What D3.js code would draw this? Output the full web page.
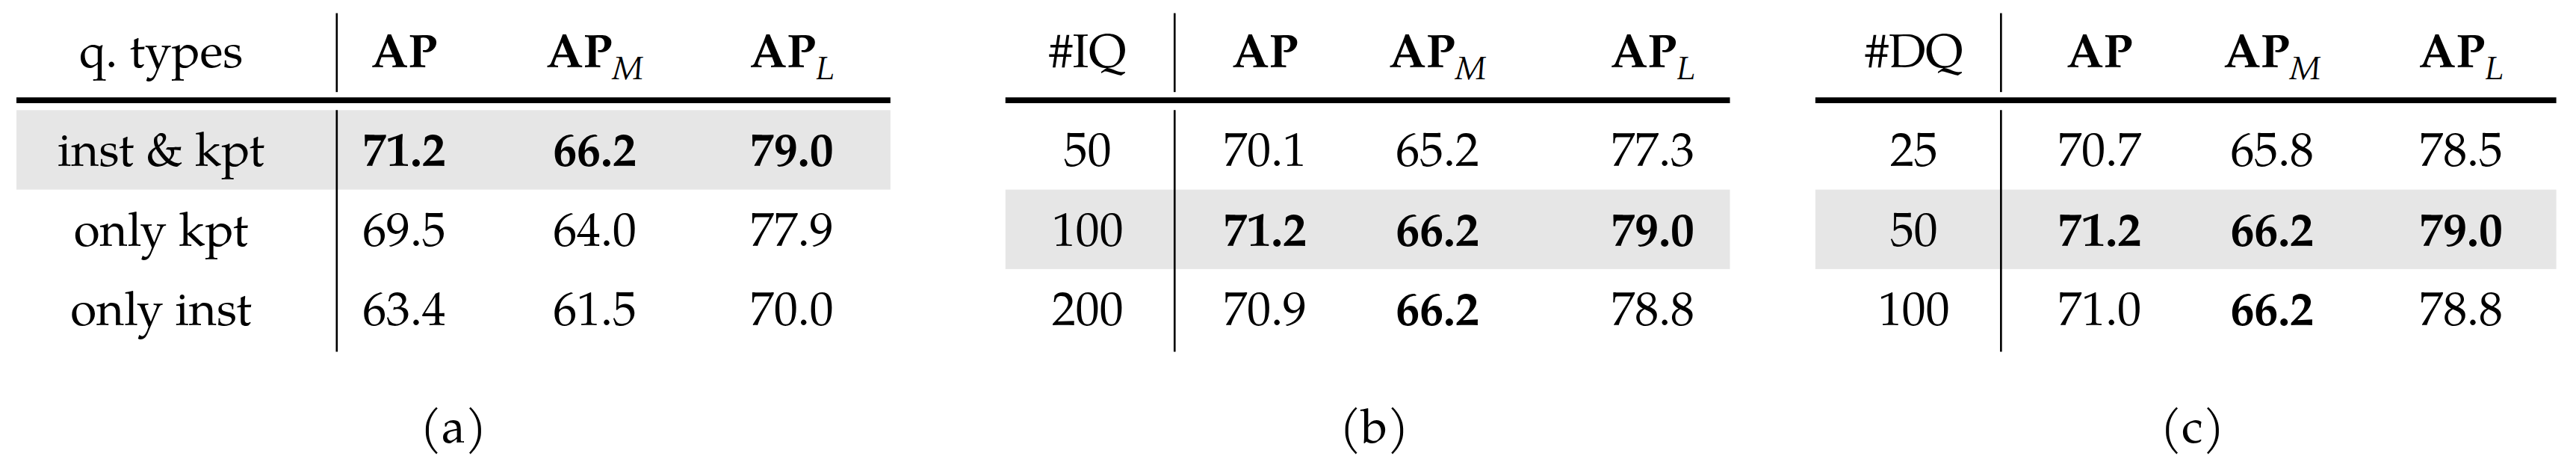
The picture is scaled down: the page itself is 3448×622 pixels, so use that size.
<!DOCTYPE html>
<html><head><meta charset="utf-8">
<script src="https://cdn.jsdelivr.net/npm/d3@7"></script>
<style>body{margin:0;background:#fff}</style>
</head><body><div id="chart"></div>
<script>
// table contents
var colHeads = ["AP", "AP", "AP"]
var colSubs = ["", "M", "L"]
var panelLabels = ["(a)", "(b)", "(c)"]
var rowHeads = ["q. types", "#IQ", "#DQ"]
var rowNames = [["inst & kpt", "only kpt", "only inst"], ["50", "100", "200"], ["25", "50", "100"]]
var values = [
    [[71.2, 66.2, 79.0], [69.5, 64.0, 77.9], [63.4, 61.5, 70.0]],
    [[70.1, 65.2, 77.3], [71.2, 66.2, 79.0], [70.9, 66.2, 78.8]],
    [[70.7, 65.8, 78.5], [71.2, 66.2, 79.0], [71.0, 66.2, 78.8]]
]
var bold = [
    [[1, 1, 1], [0, 0, 0], [0, 0, 0]],
    [[0, 0, 0], [1, 1, 1], [0, 1, 0]],
    [[0, 0, 0], [1, 1, 1], [0, 1, 0]]
]
var shaded = [0, 1, 1]

var s = 3448 / 1568
var svg = d3.select("#chart").append("svg").attr("width", 3448).attr("height", 622)
var root = svg.append("g").attr("transform", "scale(" + s + ")")
var font = "'TeX Gyre Pagella','Palatino Linotype','Liberation Serif','DejaVu Serif',serif"
var fs = "29px"

// panel geometry in display units
var panels = [
    {x0: 10, x1: 542, vline: 205, cols: [98, 246, 362, 482]},
    {x0: 612, x1: 1053, vline: 715, cols: [662, 770, 875, 1006]},
    {x0: 1105, x1: 1556, vline: 1218, cols: [1165, 1278, 1383, 1498]}
]
var y = d3.scaleBand().domain([0, 1, 2]).range([67, 212])

panels.forEach(function(p, i) {
    var g = root.append("g")
    g.append("rect").attr("x", p.x0).attr("width", p.x1 - p.x0)
        .attr("y", y(shaded[i])).attr("height", y.bandwidth()).attr("fill", "#e6e6e6")
    g.append("line").attr("x1", p.x0).attr("x2", p.x1).attr("y1", 61).attr("y2", 61)
        .attr("stroke", "#000").attr("stroke-width", 3.5)
    g.append("line").attr("x1", p.vline).attr("x2", p.vline).attr("y1", 8).attr("y2", 56)
        .attr("stroke", "#000").attr("stroke-width", 1.2)
    g.append("line").attr("x1", p.vline).attr("x2", p.vline).attr("y1", 67).attr("y2", 214)
        .attr("stroke", "#000").attr("stroke-width", 1.2)
    g.append("text").attr("x", p.cols[0]).attr("y", 41).attr("text-anchor", "middle")
        .style("font-family", font).style("font-size", fs).text(rowHeads[i])
    colHeads.forEach(function(h, j) {
        var t = g.append("text").attr("x", p.cols[j + 1]).attr("y", 41).attr("text-anchor", "middle")
            .style("font-family", font).style("font-size", fs).style("font-weight", "bold")
        t.append("tspan").text(h)
        if (colSubs[j]) t.append("tspan").attr("dy", 7).style("font-size", "20px")
            .style("font-weight", "normal").style("font-style", "italic").text(colSubs[j])
    })
    rowNames[i].forEach(function(r, k) {
        var cy = y(k) + y.bandwidth() / 2 + 10
        g.append("text").attr("x", p.cols[0]).attr("y", cy).attr("text-anchor", "middle")
            .style("font-family", font).style("font-size", fs).text(r)
        values[i][k].forEach(function(v, j) {
            g.append("text").attr("x", p.cols[j + 1]).attr("y", cy).attr("text-anchor", "middle")
                .style("font-family", font).style("font-size", fs)
                .style("font-weight", bold[i][k][j] ? "bold" : "normal").text(v.toFixed(1))
        })
    })
    g.append("text").attr("x", (p.x0 + p.x1) / 2 + (i == 0 ? 0 : 4)).attr("y", 269).attr("text-anchor", "middle")
        .style("font-family", font).style("font-size", fs).text(panelLabels[i])
})
</script></body></html>
